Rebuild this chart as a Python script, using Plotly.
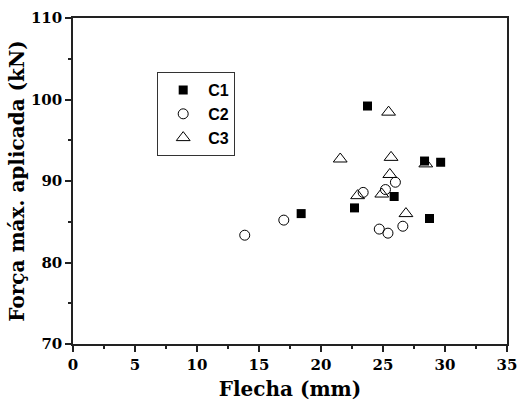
import plotly.graph_objects as go

c1_x = [18.4, 23.75, 22.7, 25.9, 28.35, 29.65, 28.75]
c1_y = [86.0, 99.2, 86.7, 88.1, 92.45, 92.3, 85.4]

c2_x = [13.85, 17.0, 23.4, 25.2, 26.0, 24.7, 25.4, 26.6]
c2_y = [83.35, 85.2, 88.6, 88.95, 89.85, 84.1, 83.6, 84.45]

c3_x = [21.55, 25.45, 25.65, 25.55, 22.95, 24.9, 26.85, 28.45]
c3_y = [92.7, 98.45, 92.9, 90.8, 88.2, 88.4, 86.0, 92.1]

x_ticks = [0, 5, 10, 15, 20, 25, 30, 35]
y_ticks = [70, 80, 90, 100, 110]

fig = go.Figure()
fig.add_trace(go.Scatter(x=c1_x, y=c1_y, mode="markers", name="C1",
                         marker=dict(symbol="square", size=9, color="black",
                                     line=dict(width=0))))
fig.add_trace(go.Scatter(x=c2_x, y=c2_y, mode="markers", name="C2",
                         marker=dict(symbol="circle-open", size=10, color="black",
                                     line=dict(width=1, color="black"))))
fig.add_trace(go.Scatter(x=c3_x, y=c3_y, mode="markers", name="C3",
                         marker=dict(symbol="triangle-up-open", size=12, color="black",
                                     line=dict(width=1, color="black"))))

tickfont = dict(family="DejaVu Serif", size=15, color="black", weight=700)
titlefont = dict(family="DejaVu Serif", size=20, color="black", weight=700)

fig.update_layout(
    width=525, height=403,
    margin=dict(l=73, r=18, t=18, b=59),
    paper_bgcolor="white", plot_bgcolor="white",
    showlegend=True,
    legend=dict(x=0.194, y=0.834, xanchor="left", yanchor="top",
                bordercolor="#333", borderwidth=1, bgcolor="white",
                font=dict(family="Liberation Sans", size=16, color="black", weight=700),
                itemwidth=40),
)
fig.update_xaxes(range=[0, 35], tickvals=x_ticks,
                 ticktext=[f"<b>{v}</b>" for v in x_ticks],
                 showgrid=False, zeroline=False, automargin=False,
                 showline=True, linecolor="#222", linewidth=1.5, mirror=True,
                 ticks="outside", ticklen=6, tickwidth=1.5, tickcolor="#222",
                 minor=dict(dtick=2.5, tick0=0, ticks="outside", ticklen=3, tickcolor="#222"),
                 tickfont=tickfont,
                 title=dict(text="Flecha (mm)", font=titlefont, standoff=9))
fig.update_yaxes(range=[70, 110], tickvals=y_ticks,
                 ticktext=[f"<b>{v}</b>" for v in y_ticks],
                 showgrid=False, zeroline=False, automargin=False,
                 showline=True, linecolor="#222", linewidth=1.5, mirror=True,
                 ticks="outside", ticklen=6, tickwidth=1.5, tickcolor="#222",
                 minor=dict(dtick=5, tick0=70, ticks="outside", ticklen=3, tickcolor="#222"),
                 tickfont=tickfont,
                 title=dict(text="Força máx. aplicada (kN)", font=titlefont, standoff=1))

fig.write_html("out.html")
